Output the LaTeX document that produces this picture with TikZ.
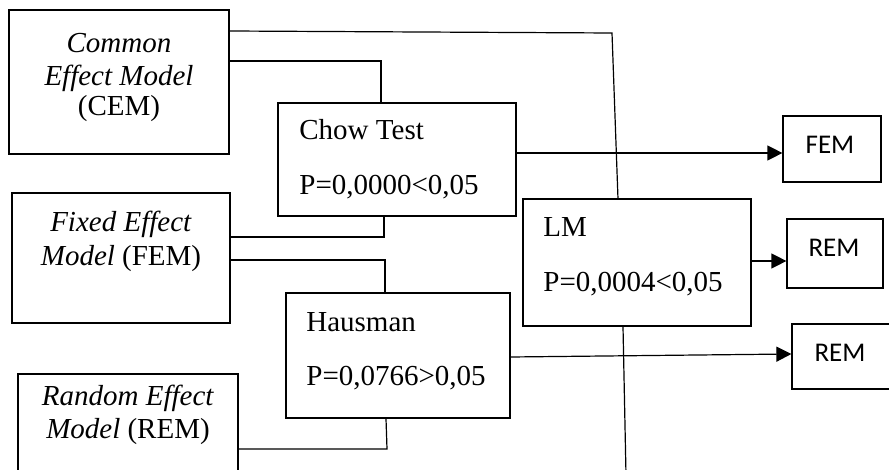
\documentclass[tikz,border=0pt]{standalone}
\usepackage{fontspec}
\setmainfont{Liberation Serif}
\newfontfamily\calibri{Carlito}
\usetikzlibrary{fit,arrows.meta}
\begin{document}
\begin{tikzpicture}[x=0.5pt,y=-0.5pt,
  box/.style={draw, line width=0.6pt, inner sep=0pt, fit={#1}},
  lbl/.style={inner sep=0pt, font=\fontsize{14.5}{17}\selectfont},
  small/.style={inner sep=0pt, font=\calibri\fontsize{13.5}{16}\selectfont},
  link/.style={line width=0.6pt},
  arr/.style={link, -{Triangle[length=7.5pt,width=7.5pt]}}]
\path[use as bounding box] (0,0) rectangle (889,470);
\clip (0,0) rectangle (889,470);

% model boxes on the left
\node[box={(9,10) (229,154)}] (cem) {};
\node[lbl, anchor=base] (cem1) at (119,53) {\textit{Common}};
\node[lbl, anchor=base] (cem2) at (119,86) {\textit{Effect Model}};
\node[lbl, anchor=base] (cem3) at (119,116) {(CEM)};

\node[box={(12,193) (230,323)}] (fem) {};
\node[lbl, anchor=base] (fem1) at (121,232) {\textit{Fixed Effect}};
\node[lbl, anchor=base] (fem2) at (121,266) {\textit{Model} (FEM)};

\node[box={(18,374) (238,490)}] (rem) {};
\node[lbl, anchor=base] (rem1) at (128,405) {\textit{Random Effect}};
\node[lbl, anchor=base] (rem2) at (128,438) {\textit{Model} (REM)};

% test boxes
\node[box={(278,103) (516,216)}] (chow) {};
\node[lbl, anchor=base west] (chow1) at (299,140) {Chow Test};
\node[lbl, anchor=base west] (chow2) at (299,195) {P=0,0000<0,05};

\node[box={(286,293) (510,418)}] (haus) {};
\node[lbl, anchor=base west] (haus1) at (306,331) {Hausman};
\node[lbl, anchor=base west] (haus2) at (306,386) {P=0,0766>0,05};

\node[box={(523,199) (751,326)}] (lm) {};
\node[lbl, anchor=base west] (lm1) at (543,237) {LM};
\node[lbl, anchor=base west] (lm2) at (543,292) {P=0,0004<0,05};

% result boxes
\node[box={(783,116) (881,182)}] (outfem) {};
\node[small, anchor=base] (outfemt) at (830,154) {FEM};
\node[box={(787,219) (883,288)}] (outrem1) {};
\node[small, anchor=base] (outrem1t) at (834,257) {REM};
\node[box={(792,324) (900,389)}] (outrem2) {};
\node[small, anchor=base] (outrem2t) at (840,362) {REM};

% bends of the connectors
\coordinate (k1) at (612,33);
\coordinate (k2) at (618,199);
\coordinate (k3) at (387,449);
\coordinate (k4) at (626,475);

% connectors
\draw[link] (cem.east |- 0,31) -- (k1) -- (k2);
\draw[link] (cem.east |- 0,61) -| (chow.north -| 381,0);
\draw[arr] (chow.east |- 0,153) -- (outfem.west |- 0,153);
\draw[link] (chow.south -| 384,0) |- (fem.east |- 0,237);
\draw[link] (fem.east |- 0,260) -| (haus.north -| 385,0);
\draw[link] (haus.south -| 386,0) -- (k3) -- (rem.east |- k3);
\draw[arr] (haus.east |- 0,357) -- (outrem2.west |- 0,354);
\draw[arr] (lm.east |- 0,261) -- (outrem1.west |- 0,261);
\draw[link] (lm.south -| 623,0) -- (k4);
\end{tikzpicture}
\end{document}
